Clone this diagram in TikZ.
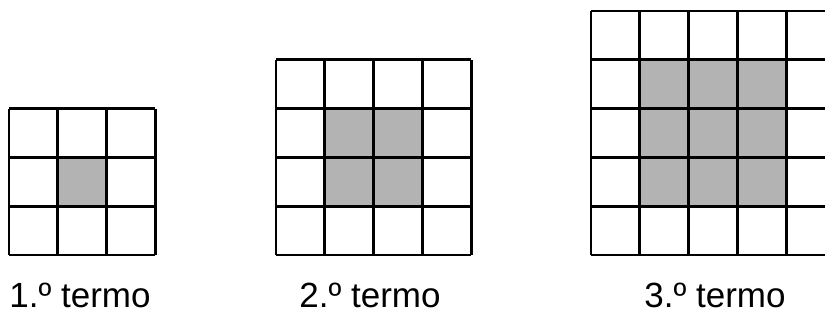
\documentclass[tikz,border=0pt]{standalone}
\usepackage{fontspec}
\setmainfont{Liberation Sans}
\begin{document}
\begin{tikzpicture}[x=1pt,y=-1pt,
  cellline/.style={line width=2.8pt,black},
  shade/.style={fill={rgb,255:red,179;green,179;blue,179}},
  lbl/.style={font=\fontsize{35}{35}\selectfont,anchor=base,inner sep=0pt}]
\useasboundingbox (0,0) rectangle (825,320);
\def\cs{48.8}
% grid 1
\begin{scope}[shift={(9,108.6)}]
  \fill[shade] (\cs,\cs) rectangle (2*\cs,2*\cs);
  \foreach \i in {0,...,3} {
    \draw[cellline] (\i*\cs,0) -- (\i*\cs,3*\cs);
    \draw[cellline] (0,\i*\cs) -- (3*\cs,\i*\cs);
  }
\end{scope}
% grid 2
\begin{scope}[shift={(276,59.8)}]
  \fill[shade] (\cs,\cs) rectangle (3*\cs,3*\cs);
  \foreach \i in {0,...,4} {
    \draw[cellline] (\i*\cs,0) -- (\i*\cs,4*\cs);
    \draw[cellline] (0,\i*\cs) -- (4*\cs,\i*\cs);
  }
\end{scope}
% grid 3
\begin{scope}
  \clip (0,0) rectangle (825,320);
  \begin{scope}[shift={(591,11)}]
    \fill[shade] (\cs,\cs) rectangle (4*\cs,4*\cs);
    \foreach \i in {0,...,5} {
      \draw[cellline] (\i*\cs,0) -- (\i*\cs,5*\cs);
      \draw[cellline] (0,\i*\cs) -- (5*\cs,\i*\cs);
    }
  \end{scope}
\end{scope}
\node[lbl] (t1) at (80,308) {1.º termo};
\node[lbl] (t2) at (370,308) {2.º termo};
\node[lbl] (t3) at (715,308) {3.º termo};
\end{tikzpicture}
\end{document}
